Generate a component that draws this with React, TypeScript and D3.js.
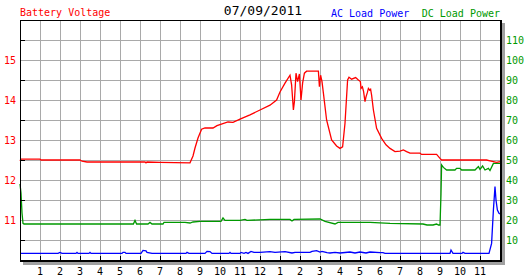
import React from "react";
import * as d3 from "d3";

// ---- data (hour of day, value) ----
const batteryVoltage: [number, number][] = [
  [0, 12.48], [0.05, 12.52], [1.0, 12.52], [1.05, 12.5], [3.0, 12.5], [3.1, 12.47], [3.35, 12.45],
  [6.25, 12.45], [6.3, 12.43], [6.35, 12.45], [7, 12.44], [8.5, 12.43], [8.65, 12.6], [8.75, 12.8],
  [8.9, 13.05], [9.08, 13.27], [9.25, 13.3], [9.65, 13.3], [9.85, 13.36], [10.4, 13.45], [10.65, 13.44],
  [11, 13.52], [11.5, 13.63], [12, 13.75], [12.5, 13.87], [12.83, 14.0], [13, 14.2], [13.25, 14.42],
  [13.5, 14.62], [13.58, 14.38], [13.67, 13.75], [13.72, 13.96], [13.8, 14.67], [13.88, 14.46],
  [13.97, 14.65], [14.05, 14.0], [14.13, 14.42], [14.22, 14.67], [14.33, 14.72], [14.92, 14.72],
  [14.97, 14.33], [15.03, 14.62], [15.1, 14.46], [15.17, 14.17], [15.33, 13.5], [15.58, 13.0],
  [15.83, 12.85], [16, 12.79], [16.13, 12.83], [16.25, 13.42], [16.38, 14.5], [16.45, 14.57],
  [16.58, 14.52], [16.78, 14.56], [16.92, 14.5], [17.02, 14.46], [17.05, 14.29], [17.12, 14.33],
  [17.18, 14.21], [17.25, 13.96], [17.3, 14.08], [17.37, 14.19], [17.42, 14.29], [17.48, 14.25],
  [17.53, 14.27], [17.58, 14.12], [17.67, 13.75], [17.83, 13.29], [18.08, 13.04], [18.3, 12.88],
  [18.5, 12.79], [18.75, 12.71], [19, 12.72], [19.17, 12.75], [19.33, 12.71], [19.5, 12.67],
  [20, 12.67], [20.08, 12.64], [20.83, 12.64], [21, 12.54], [21.08, 12.5], [23.33, 12.5],
  [23.5, 12.48], [23.83, 12.44], [24, 12.46],
];

const dcLoadPower: [number, number][] = [
  [0, 38], [0.05, 33.5], [0.1, 23.5], [0.15, 18.3], [0.2, 18.0], [5.67, 18.0], [5.75, 19.8],
  [5.83, 18], [6.4, 18], [6.5, 18.8], [6.6, 18], [7.15, 18], [7.2, 18.8], [8.25, 18.8], [8.5, 18.5],
  [8.65, 19], [9, 19.3], [10.05, 19.3], [10.15, 21], [10.25, 19.8], [11, 19.8], [11.25, 20.3],
  [11.35, 19.8], [12.5, 20.3], [13.5, 20.3], [13.6, 19.5], [13.7, 20.3], [15, 20.5], [15.25, 19.3],
  [15.75, 18], [15.9, 18.8], [17.5, 18.8], [18.5, 18.3], [20.15, 18], [20.35, 17.5], [20.65, 17.5],
  [20.83, 18], [20.92, 17.5], [21, 17.5], [21.05, 33], [21.08, 47.5], [21.17, 46.3], [21.33, 45],
  [21.75, 45], [21.83, 45.8], [22, 45.8], [22.08, 45], [22.75, 45], [22.92, 46.7], [23, 45.3],
  [23.13, 47], [23.25, 45], [23.42, 45.8], [23.5, 44.7], [23.67, 48.3], [24, 48.3],
];

const acLoadPower: [number, number][] = [
  [0, 3.3], [1.9, 3.3], [2.0, 3.8], [2.1, 3.3], [2.8, 3.3], [2.85, 3.8], [2.9, 3.3], [3.45, 3.3],
  [3.5, 3.8], [3.55, 3.3], [5.1, 3.3], [5.15, 3.8], [5.25, 3.8], [5.3, 3.3], [6.05, 3.3], [6.15, 4.8],
  [6.3, 4.6], [6.35, 3.8], [6.6, 3.3], [8.3, 3.3], [8.35, 3.8], [8.45, 3.3], [9.25, 3.3], [9.35, 4.3],
  [9.5, 4.2], [9.6, 3.3], [10.45, 3.3], [10.5, 3.8], [10.55, 3.3], [11, 3.3], [11.05, 3.8], [11.2, 3.3],
  [11.3, 3.8], [11.4, 3.3], [11.55, 4.3], [11.7, 3.8], [12, 3.8], [12.5, 4.2], [12.75, 3.8], [13.25, 4.2],
  [13.6, 3.5], [13.75, 3.8], [14.5, 3.8], [14.6, 4.3], [14.83, 4.7], [15, 4.0], [15.1, 4.3],
  [15.35, 3.7], [15.5, 3.5], [15.75, 3.8], [16, 3.5], [16.5, 4.0], [16.75, 3.5], [17, 4.0],
  [17.3, 3.5], [17.5, 4.0], [18, 3.7], [18.15, 3.7], [18.25, 3.3], [21.5, 3.3], [21.55, 5],
  [21.65, 3.3], [22.1, 3.3], [22.15, 3.8], [22.25, 3.3], [23.45, 3.3], [23.58, 8.3], [23.67, 25],
  [23.75, 36.7], [23.8, 30], [23.87, 25], [23.95, 23.3], [24, 23],
];

const hourLabels = ["1", "2", "3", "4", "5", "6", "7", "8", "9", "10", "11", "12",
  "1", "2", "3", "4", "5", "6", "7", "8", "9", "10", "11"];
const voltTicks = [11, 12, 13, 14, 15];
const voltMinorTicks = [10.5, 11.5, 12.5, 13.5, 14.5, 15.5];
const powerTicks = [10, 20, 30, 40, 50, 60, 70, 80, 90, 100, 110];

const title = "07/09/2011";

const W = 527, H = 280;
const L = 20, R = 500, T = 20, B = 260;
const FONT = "'DejaVu Sans Mono', monospace";
const RED = "#ff0000", GREEN = "#009900", BLUE = "#0000ff", GRID = "#a9a9a9";

export default function App() {
  const x = d3.scaleLinear().domain([0, 24]).range([L, R]);
  const yV = d3.scaleLinear().domain([10, 16]).range([B, T]);
  const yP = d3.scaleLinear().domain([0, 120]).range([B, T]);

  const lineV = d3.line<[number, number]>().x(d => x(d[0])).y(d => yV(d[1]));
  const lineP = d3.line<[number, number]>().x(d => x(d[0])).y(d => yP(d[1]));

  const vGrid = d3.range(1, 24).map(h => x(h));
  const hGrid = d3.range(1, 12).map(i => yP(i * 10));

  return (
    <svg width={W} height={H} style={{ position: "absolute", left: 0, top: 0, background: "#fff" }}>
      <rect x={0} y={0} width={W} height={H} fill="#fff" />
      {/* shadow */}
      <rect x={R + 1} y={T + 3} width={4} height={B - T + 2} fill="#a0a0a0" />
      <rect x={L + 3} y={B + 1} width={R - L + 2} height={4} fill="#a0a0a0" />
      {/* grid */}
      <g shapeRendering="crispEdges" stroke={GRID} strokeWidth={1}>
        {vGrid.map((gx, i) => <line key={"v" + i} x1={gx + 0.5} x2={gx + 0.5} y1={T} y2={B} />)}
        {hGrid.map((gy, i) => <line key={"h" + i} x1={L} x2={R} y1={gy + 0.5} y2={gy + 0.5} />)}
      </g>
      {/* series */}
      <path d={lineP(acLoadPower) || ""} fill="none" stroke={BLUE} strokeWidth={1.3} />
      <path d={lineP(dcLoadPower) || ""} fill="none" stroke={GREEN} strokeWidth={1.3} />
      <path d={lineV(batteryVoltage) || ""} fill="none" stroke={RED} strokeWidth={1.3} />
      {/* frame */}
      <g shapeRendering="crispEdges" stroke="#000">
        <line x1={L + 0.5} x2={L + 0.5} y1={T} y2={B + 2} strokeWidth={1} />
        <line x1={L} x2={R + 2} y1={T + 0.5} y2={T + 0.5} strokeWidth={1} />
        <line x1={R + 1} x2={R + 1} y1={T} y2={B + 2} strokeWidth={2} />
        <line x1={L} x2={R + 2} y1={B + 1} y2={B + 1} strokeWidth={2} />
        {voltMinorTicks.map((v, i) => (
          <line key={"mt" + i} x1={L} x2={L + 5} y1={yV(v) + 0.5} y2={yV(v) + 0.5} strokeWidth={1} />
        ))}
        {d3.range(1, 24).map(h => (
          <line key={"bt" + h} x1={x(h) + 0.5} x2={x(h) + 0.5} y1={B - 4} y2={B} strokeWidth={1} />
        ))}
      </g>
      {/* axis labels */}
      <g fontFamily={FONT} fontSize={10}>
        {voltTicks.map(v => (
          <text key={"vl" + v} x={16} y={yV(v) + 4} textAnchor="end" fill={RED}>{v}</text>
        ))}
        {powerTicks.map(p => (
          <text key={"pl" + p} x={506} y={yP(p) + 4} textAnchor="start" fill={GREEN}>{p}</text>
        ))}
        {hourLabels.map((t, i) => (
          <text key={"hl" + i} x={x(i + 1)} y={275} textAnchor="middle" fill="#000">{t}</text>
        ))}
        <text x={20} y={16} fill={RED}>Battery Voltage</text>
        <text x={331} y={17} fill={BLUE}>AC Load Power</text>
        <text x={500} y={17} textAnchor="end" fill={GREEN}>DC Load Power</text>
      </g>
      <text x={263} y={15} textAnchor="middle" fontFamily={FONT} fontSize={13} fill="#000">{title}</text>
    </svg>
  );
}
